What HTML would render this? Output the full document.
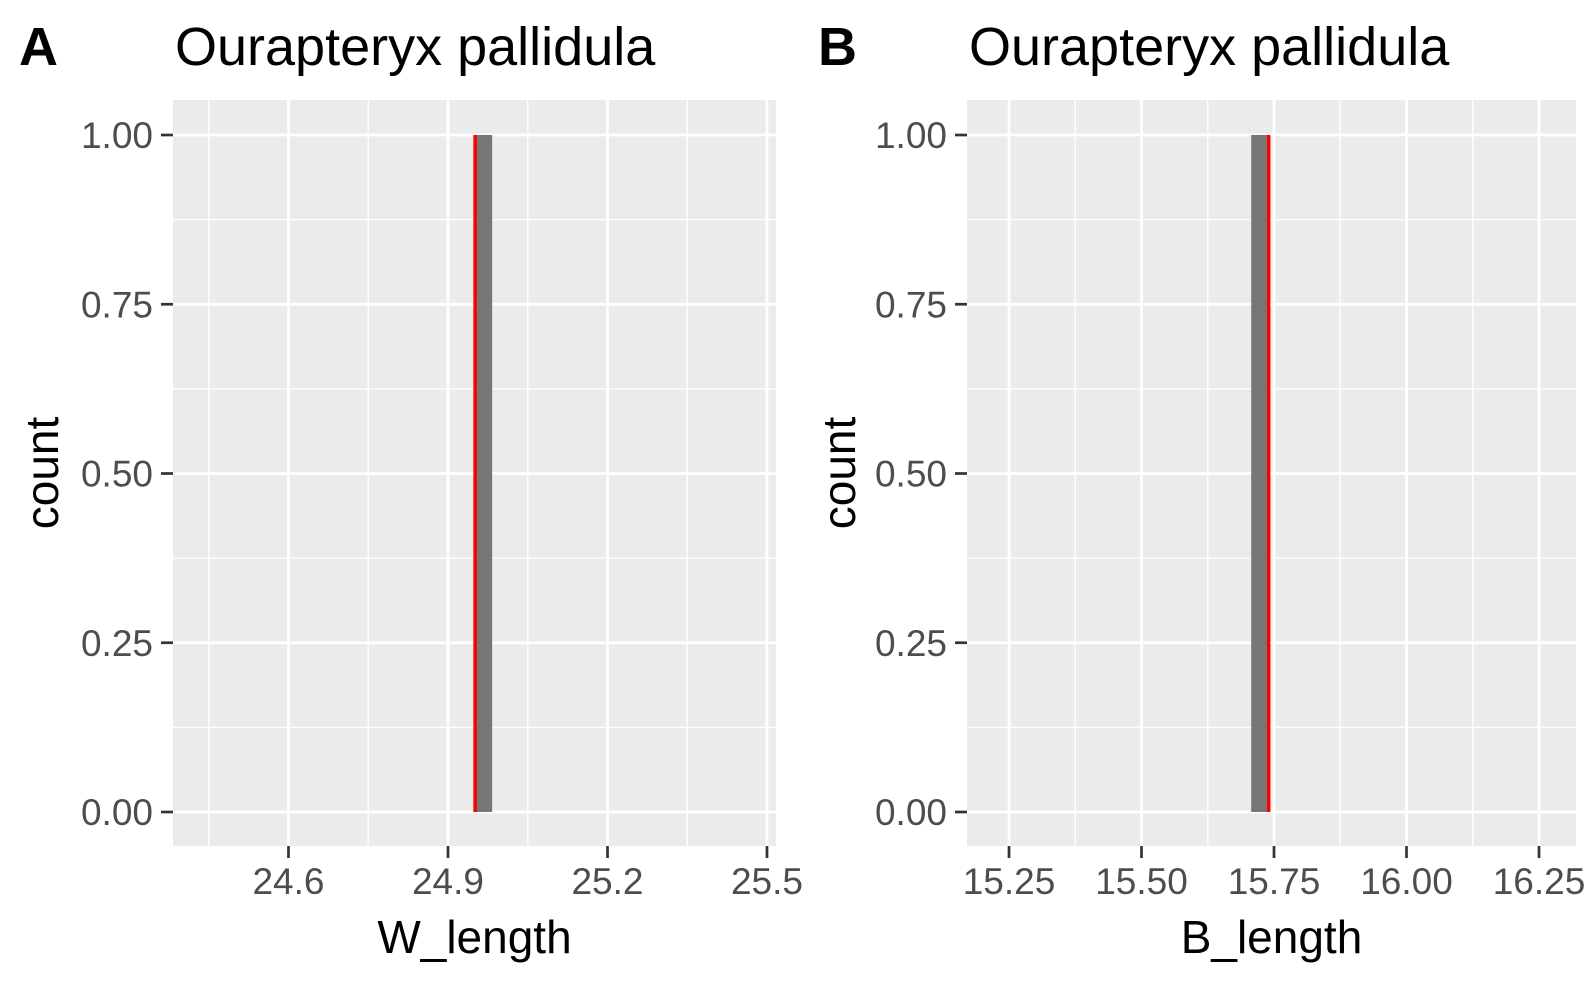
<!DOCTYPE html>
<html><head><meta charset="utf-8"><style>
html,body{margin:0;padding:0;background:#fff}
svg{display:block;font-family:"Liberation Sans",Arial,sans-serif}
</style></head><body>
<svg id="c" width="1593" height="984"></svg>
<script>
const yTicks=[0,0.25,0.5,0.75,1.0];
const yTickLabels=["0.00","0.25","0.50","0.75","1.00"];
const panelALetter="A", panelBLetter="B";
const speciesTitle="Ourapteryx pallidula";
const aXTicks=[24.6,24.9,25.2,25.5];
const aXTickLabels=["24.6","24.9","25.2","25.5"];
const aBinStart=[24.951];
const aBinEnd=[24.983];
const aCounts=[1];
const aMean=24.951;
const bXTicks=[15.25,15.5,15.75,16.0,16.25];
const bXTickLabels=["15.25","15.50","15.75","16.00","16.25"];
const bBinStart=[15.707];
const bBinEnd=[15.740];
const bCounts=[1];
const bMean=15.740;

const NS="http://www.w3.org/2000/svg";
const svg=document.getElementById('c');
function mk(tag,attrs,parent){const e=document.createElementNS(NS,tag);for(const k in attrs)e.setAttribute(k,attrs[k]);(parent||svg).appendChild(e);return e;}

function panel(o){
  const g=mk('g',{});
  
  
  const x=v=>o.px0+(v-o.x0)*(o.px1-o.px0)/(o.x1-o.x0);
  const y=v=>o.py0+(v-0)*(o.py1-o.py0)/(1-0);
  const bg=mk('rect',{x:o.left,y:o.top,width:o.right-o.left,height:o.bottom-o.top,fill:'#ebebeb'},g);
  
  
  const step=o.xTicks[1]-o.xTicks[0];
  for(let i=-1;i<o.xTicks.length;i++){const v=o.xTicks[0]+step*(i+0.5);const px=x(v);if(px>o.left&&px<o.right)mk('line',{x1:px,x2:px,y1:o.top,y2:o.bottom,stroke:'#fff','stroke-width':1.3},g);}
  for(let i=0;i<yTicks.length-1;i++){const py=y((yTicks[i]+yTicks[i+1])/2);mk('line',{x1:o.left,x2:o.right,y1:py,y2:py,stroke:'#fff','stroke-width':1.3},g);}
  o.xTicks.forEach((v,i)=>{const px=x(v);mk('line',{x1:px,x2:px,y1:o.top,y2:o.bottom,stroke:'#fff','stroke-width':2.7},g);
    mk('line',{x1:px,x2:px,y1:o.bottom,y2:o.bottom+12,stroke:'#333','stroke-width':2.7},g);
    const t=mk('text',{x:px,y:o.bottom+48,'font-size':37,fill:'#4d4d4d','text-anchor':'middle'},g);t.textContent=o.xTickLabels[i];
    });
  yTicks.forEach((v,i)=>{const py=y(v);mk('line',{x1:o.left,x2:o.right,y1:py,y2:py,stroke:'#fff','stroke-width':2.7},g);
    mk('line',{x1:o.left-12,x2:o.left,y1:py,y2:py,stroke:'#333','stroke-width':2.7},g);
    const t=mk('text',{x:o.left-20,y:py+13,'font-size':37,fill:'#4d4d4d','text-anchor':'end'},g);t.textContent=yTickLabels[i];
    });
  o.binStart.forEach((s,i)=>{const r=mk('rect',{x:x(s),y:y(o.counts[i]),width:x(o.binEnd[i])-x(s),height:y(0)-y(o.counts[i]),fill:'#767676'},g);
    });
  const ml=mk('line',{x1:x(o.mean),x2:x(o.mean),y1:y(1),y2:y(0),stroke:'#ff0000','stroke-width':3.5},g);
  
  const L=mk('text',{x:o.letterX,y:65,'font-size':54,'font-weight':'bold',fill:'#000'},g);L.textContent=o.letter;
  
  const T=mk('text',{x:o.left+2,y:65,'font-size':54,fill:'#000'},g);T.textContent=speciesTitle;
  
  const xt=mk('text',{x:(o.left+o.right)/2,y:953,'font-size':46,fill:'#000','text-anchor':'middle'},g);xt.textContent=o.xTitle;
  
  const cy=(o.top+o.bottom)/2;
  const yt=mk('text',{x:o.yTitleX,y:cy,'font-size':46,fill:'#000','text-anchor':'middle',transform:`rotate(-90 ${o.yTitleX} ${cy})`},g);yt.textContent='count';
  
}
panel({name:'panel-a',left:173,right:776,top:100,bottom:846,px0:448,px1:767,x0:24.9,x1:25.5,py0:812,py1:135,
  xTicks:aXTicks,xTickLabels:aXTickLabels,binStart:aBinStart,binEnd:aBinEnd,counts:aCounts,mean:aMean,
  letter:panelALetter,letterX:19,xTitle:'W_length',yTitleX:58});
panel({name:'panel-b',left:967,right:1576,top:100,bottom:846,px0:1274,px1:1539,x0:15.75,x1:16.25,py0:812,py1:135,
  xTicks:bXTicks,xTickLabels:bXTickLabels,binStart:bBinStart,binEnd:bBinEnd,counts:bCounts,mean:bMean,
  letter:panelBLetter,letterX:818,xTitle:'B_length',yTitleX:855});
</script>
</body></html>
